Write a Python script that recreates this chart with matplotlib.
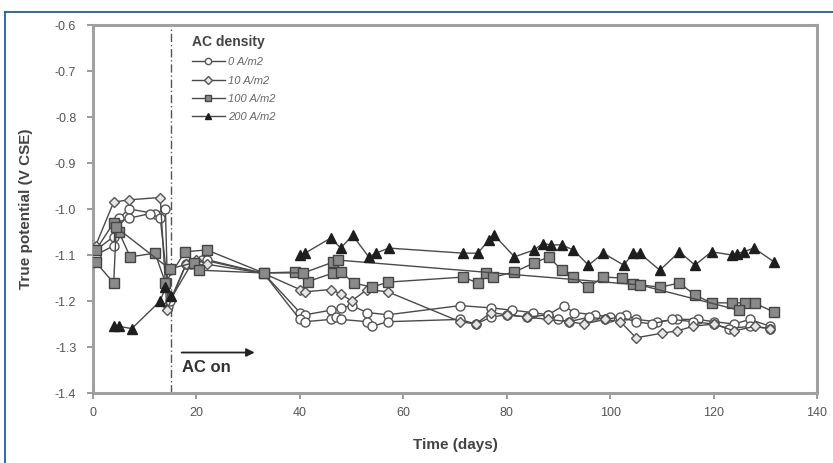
import numpy as np
import matplotlib
matplotlib.use("Agg")
import matplotlib.pyplot as plt
from matplotlib.lines import Line2D

plt.rcParams['font.family'] = ['Liberation Sans Narrow', 'Liberation Sans', 'DejaVu Sans']

# ---------------- data ----------------
labels = ["0 A/m2", "10 A/m2", "100 A/m2", "200 A/m2"]

# 0 A/m2 (open circles) - two specimens
c0a_days = [0.5, 4, 5, 7, 12, 14, 14.5, 18, 21, 33, 40, 41, 46, 48, 50, 53, 57, 71, 77, 81, 85, 88, 91,
            93, 97, 100, 103, 105, 109, 113, 117, 120, 124, 127, 131]
c0a_vals = [-1.09, -1.06, -1.02, -1.0, -1.01, -1.0, -1.21, -1.12, -1.11, -1.14, -1.225, -1.23, -1.22,
            -1.215, -1.21, -1.225, -1.23, -1.21, -1.215, -1.22, -1.225, -1.23, -1.21, -1.225, -1.23,
            -1.235, -1.23, -1.24, -1.245, -1.24, -1.24, -1.245, -1.25, -1.24, -1.255]
c0b_days = [0.5, 4, 4.5, 7, 11, 13, 14.8, 19, 22, 33, 40, 41, 46, 47, 48, 53, 54, 57, 71, 74, 77, 80, 84,
            88, 90, 92, 96, 99, 102, 105, 108, 112, 116, 120, 123, 127, 131]
c0b_vals = [-1.1, -1.08, -1.03, -1.02, -1.01, -1.02, -1.2, -1.12, -1.11, -1.14, -1.24, -1.245, -1.24,
            -1.235, -1.24, -1.245, -1.255, -1.245, -1.24, -1.25, -1.235, -1.23, -1.235, -1.23, -1.24,
            -1.245, -1.235, -1.24, -1.235, -1.245, -1.25, -1.24, -1.245, -1.25, -1.26, -1.255, -1.26]

# 10 A/m2 (diamonds)
d10_days = [0.5, 4, 7, 13, 14.3, 18, 20, 22, 33, 40, 41, 46, 48, 50, 53, 57, 71, 74, 77, 80, 84, 88, 92,
            95, 99, 102, 105, 110, 113, 116, 120, 124, 128, 131]
d10_vals = [-1.08, -0.985, -0.98, -0.975, -1.22, -1.12, -1.11, -1.12, -1.14, -1.175, -1.18, -1.175,
            -1.185, -1.2, -1.175, -1.18, -1.245, -1.25, -1.225, -1.23, -1.235, -1.24, -1.245, -1.25,
            -1.24, -1.245, -1.28, -1.27, -1.265, -1.255, -1.25, -1.265, -1.255, -1.26]

# 100 A/m2 (grey squares) - two specimens
s100a_days = [0.5, 4, 5, 7.2, 12, 14, 17.8, 22, 33, 39, 41.5, 46.5, 48, 50.4, 54, 57, 71.6, 74.4, 76,
              77.4, 81.5, 85.3, 88.2, 90.6, 92.9, 95.8, 98.7, 102.2, 104.5, 109.6, 113.4, 116.4, 119.6,
              123.5, 126, 128, 131.7]
s100a_vals = [-1.09, -1.03, -1.05, -1.104, -1.096, -1.16, -1.093, -1.089, -1.139, -1.137, -1.158,
              -1.139, -1.137, -1.161, -1.17, -1.159, -1.148, -1.161, -1.139, -1.148, -1.137, -1.117,
              -1.104, -1.133, -1.148, -1.17, -1.148, -1.15, -1.163, -1.17, -1.161, -1.187, -1.204,
              -1.204, -1.204, -1.205, -1.224]
s100b_days = [0.5, 4, 4.5, 14.8, 19.5, 20.5, 33, 40.7, 46.5, 47.3, 105.7, 124.9]
s100b_vals = [-1.115, -1.161, -1.04, -1.13, -1.117, -1.133, -1.139, -1.139, -1.115, -1.111, -1.165, -1.22]

# 200 A/m2 (black triangles)
t200_days = [4, 5, 7.5, 13, 14, 15, np.nan, 40, 41, 46, 47.9, 50.2, 53.3, 54.7, 57.2, 71.6, 74.4, 76.6,
             77.6, 81.5, 85.3, 87, 88.6, 90.6, 92.9, 95.8, 98.7, 102.6, 104.5, 105.7, 109.6, 113.4,
             116.4, 119.6, 123.5, 124.5, 125.8, 127.8, 131.7]
t200_vals = [-1.255, -1.255, -1.26, -1.2, -1.17, -1.19, np.nan, -1.1, -1.096, -1.063, -1.085, -1.057,
             -1.104, -1.096, -1.085, -1.096, -1.096, -1.067, -1.057, -1.104, -1.089, -1.075, -1.078,
             -1.078, -1.089, -1.122, -1.096, -1.122, -1.096, -1.096, -1.133, -1.093, -1.122, -1.093,
             -1.1, -1.097, -1.093, -1.085, -1.115]

ac_on_day = 15
x_ticks = [0, 20, 40, 60, 80, 100, 120, 140]
y_ticks = [-1.4, -1.3, -1.2, -1.1, -1.0, -0.9, -0.8, -0.7, -0.6]

# ---------------- figure ----------------
W, H = 833, 463
fig = plt.figure(figsize=(W / 100, H / 100), dpi=100)
ax = fig.add_axes([93 / W, 1 - 393 / H, (817 - 93) / W, (393 - 25) / H])

line_kw = dict(color='#4a4a4a', lw=1.0)
st_c = dict(marker='o', ms=6.5, mfc='white', mec='#555555', mew=1.0)
st_d = dict(marker='D', ms=5, mfc='#e6e6e6', mec='#555555', mew=1.0)
st_s = dict(marker='s', ms=6.5, mfc='#8a8a8a', mec='#444444', mew=1.0)
st_t = dict(marker='^', ms=7, mfc='#1e1e1e', mec='#1e1e1e', mew=1.0)

ax.plot(c0a_days, c0a_vals, **line_kw, **st_c, label=labels[0], zorder=3)
ax.plot(c0b_days, c0b_vals, **line_kw, **st_c, zorder=3)
ax.plot(d10_days, d10_vals, **line_kw, **st_d, label=labels[1], zorder=4)
ax.plot(s100a_days, s100a_vals, **line_kw, **st_s, label=labels[2], zorder=5)
ax.plot(s100b_days, s100b_vals, **line_kw, **st_s, zorder=5)
ax.plot(t200_days, t200_vals, **line_kw, **st_t, label=labels[3], zorder=6)

ax.axvline(ac_on_day, color='#555555', lw=1.0, ls=(0, (6, 2, 1, 2)), zorder=2)
ax.annotate('', xy=(31.8, -1.312), xytext=(16.6, -1.312),
            arrowprops=dict(arrowstyle='-|>', color='#222222', lw=1.3, mutation_scale=12))
ax.text(17.3, -1.344, 'AC on', fontsize=12, fontweight='bold', color='#333333',
        ha='left', va='center')

ax.set_xlim(0, 140)
ax.set_ylim(-1.4, -0.6)
ax.set_xticks(x_ticks)
ax.set_yticks(y_ticks)
ax.set_xticklabels([str(t) for t in x_ticks])
ax.set_yticklabels(['%.1f' % t for t in y_ticks])
for s in ax.spines.values():
    s.set_color('#a0a0a0')
    s.set_linewidth(2.2)
ax.tick_params(axis='both', direction='out', length=4, width=1.2, color='#8a8a8a',
               labelsize=9, labelcolor='#555555')
ax.tick_params(axis='x', pad=6)
ax.tick_params(axis='y', pad=8)
ax.set_xlabel('Time (days)', fontsize=11, fontweight='bold', color='#444444', labelpad=14)
ax.set_ylabel('True potential (V CSE)', fontsize=11, fontweight='bold', color='#444444', labelpad=16)

leg = ax.legend(loc='upper left', bbox_to_anchor=(0.13, 0.985), frameon=False,
                title='AC density', fontsize=8, handlelength=3.0, handletextpad=0.3,
                labelspacing=0.75, borderaxespad=0)
leg.get_title().set_fontweight('bold')
leg.get_title().set_fontsize(10)
leg.get_title().set_color('#444444')
leg._legend_box.align = 'left'
for t in leg.get_texts():
    t.set_color('#666666')
    t.set_fontstyle('italic')
for h in leg.legend_handles:
    h.set_markersize(4.5)

# blue page border (top and left)
fig.add_artist(Line2D([5 / W, 1], [1 - 12 / H, 1 - 12 / H], color='#1f5fa8', lw=1.3))
fig.add_artist(Line2D([5 / W, 5 / W], [0, 1 - 12 / H], color='#1f5fa8', lw=1.3))

fig.savefig('out.png', dpi=100)
